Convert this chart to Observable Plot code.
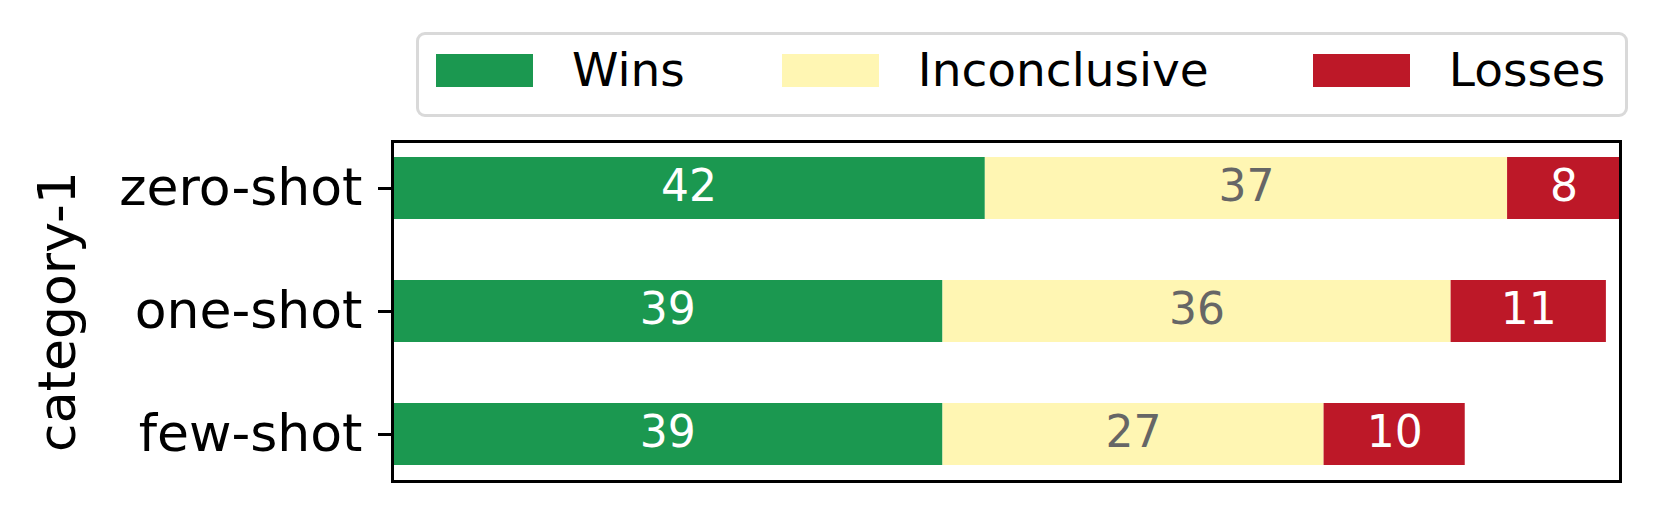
<!DOCTYPE html>
<html>
<head>
<meta charset="utf-8">
<script src="https://cdn.jsdelivr.net/npm/d3@7"></script>
<script src="https://cdn.jsdelivr.net/npm/@observablehq/plot@0.6"></script>
<style>
  html, body { margin: 0; padding: 0; background: #fff; }
  body { width: 1659px; height: 513px; overflow: hidden; font-family: "DejaVu Sans", sans-serif; }
  #legendWrap { height: 130px; position: relative; }
  #legend {
    position: absolute; left: 416px; top: 32px; width: 1212px; height: 85px;
    box-sizing: border-box; border: 3px solid #d9d9d9; border-radius: 9px;
    display: flex; align-items: center; padding-left: 17px; padding-bottom: 8px;
    font-size: 47px; color: #000;
  }
  .item { display: flex; align-items: center; }
  .sw { width: 97px; height: 33px; margin-right: 39px; }
  .lab { line-height: 1.164; white-space: nowrap; }
</style>
</head>
<body>
<div id="legendWrap"><div id="legend"></div></div>
<div id="chart"></div>
<script>
const categories = ["zero-shot", "one-shot", "few-shot"];
const seriesNames = ["Wins", "Inconclusive", "Losses"];
const wins = [42, 39, 39];
const inconclusive = [37, 36, 27];
const losses = [8, 11, 10];
const colors = ["#1b9850", "#fff6b3", "#bd1828"];
const labelColors = ["#ffffff", "#666666", "#ffffff"];
const yLabel = "category-1";

const seriesValues = [wins, inconclusive, losses];
const data = [];
seriesNames.forEach((s, si) => {
  categories.forEach((c, ci) => {
    data.push({category: c, series: s, value: seriesValues[si][ci]});
  });
});

// legend
const legend = document.getElementById("legend");
const itemGaps = [97, 104, 0];
seriesNames.forEach((s, i) => {
  const item = document.createElement("div");
  item.className = "item";
  item.style.marginRight = itemGaps[i] + "px";
  const sw = document.createElement("div");
  sw.className = "sw";
  sw.style.background = colors[i];
  const lab = document.createElement("span");
  lab.className = "lab";
  lab.textContent = s;
  item.appendChild(sw);
  item.appendChild(lab);
  legend.appendChild(item);
});

const textMarks = seriesNames.map((s, i) =>
  Plot.text(data, Plot.stackX({
    x: "value", y: "category",
    text: d => d.series === s ? String(d.value) : "",
    order: seriesNames,
    z: "series",
    fill: labelColors[i], fontSize: 44, dy: -2
  }))
);

const chart = Plot.plot({
  width: 1659,
  height: 383,
  marginLeft: 392,
  marginRight: 39,
  marginTop: 11,
  marginBottom: 32,
  style: {fontFamily: "DejaVu Sans, sans-serif", background: "#fff", color: "#000"},
  x: {domain: [0, 87], axis: null},
  y: {domain: categories, paddingInner: 0.5, paddingOuter: 0.125, axis: null},
  color: {domain: seriesNames, range: colors},
  marks: [
    Plot.barX(data, Plot.stackX({x: "value", y: "category", fill: "series", order: seriesNames, z: "series"})),
    ...textMarks,
    Plot.axisY({
      tickSize: 14, tickPadding: 16, fontSize: 52, strokeWidth: 3,
      label: yLabel, labelAnchor: "center", labelOffset: 354
    }),
    Plot.frame({stroke: "#000", strokeWidth: 3})
  ]
});
document.getElementById("chart").appendChild(chart);
</script>
</body>
</html>
